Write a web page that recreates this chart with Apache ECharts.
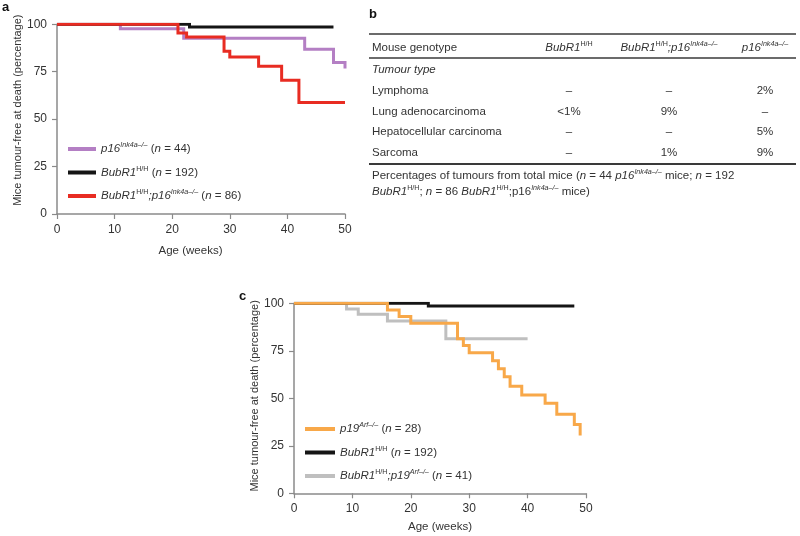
<!DOCTYPE html>
<html><head><meta charset="utf-8">
<script src="https://cdn.jsdelivr.net/npm/echarts@6/dist/echarts.min.js"></script>
<style>html,body{margin:0;padding:0;background:#fff}#c{width:800px;height:536px}</style>
</head><body><div id="c"></div>
<script>
const FONT = "'Liberation Sans', Arial, Helvetica, sans-serif";

// ---- Panel a data (weeks, % tumour-free) ----
const weeksP16a = [0, 11, 22, 43, 48, 50];
const survP16a  = [100, 97.6, 92.7, 86.8, 79.8, 76.7];
const weeksBubA = [0, 23, 48];
const survBubA  = [100, 98.6, 98.6];
const weeksDblA = [0, 21, 22.5, 29, 30, 35, 39, 42, 50];
const survDblA  = [100, 95.4, 93.3, 85.8, 82.8, 77.9, 70.5, 58.8, 58.8];

// ---- Panel c data ----
const weeksP19c = [0, 16, 18, 20, 28, 29, 30, 34, 35, 36, 37, 39, 43, 45, 48, 49];
const survP19c  = [100, 96.5, 93, 89.5, 81.3, 77.8, 74, 69.8, 65.6, 61.4, 56.4, 51.8, 47.4, 41.6, 36.2, 30.4];
const weeksBubC = [0, 23, 48];
const survBubC  = [100, 98.6, 98.6];
const weeksDblC = [0, 9, 11, 16, 26, 40];
const survDblC  = [100, 97, 94.2, 90.7, 81.4, 81.4];

const xTicks = [0, 10, 20, 30, 40, 50];
const yTicks = [0, 25, 50, 75, 100];

const legendLabels = {
  a_p16: '{i|p16}{si|Ink4a–/–}{r| (}{i|n}{r| = 44)}',
  a_bub: '{i|BubR1}{s|H/H}{r| (}{i|n}{r| = 192)}',
  a_dbl: '{i|BubR1}{s|H/H}{i|;p16}{si|Ink4a–/–}{r| (}{i|n}{r| = 86)}',
  c_p19: '{i|p19}{si|Arf–/–}{r| (}{i|n}{r| = 28)}',
  c_bub: '{i|BubR1}{s|H/H}{r| (}{i|n}{r| = 192)}',
  c_dbl: '{i|BubR1}{s|H/H}{i|;p19}{si|Arf–/–}{r| (}{i|n}{r| = 41)}'
};

// ---- Table b data ----
const tableHeader = ['Mouse genotype', '{i|BubR1}{s|H/H}', '{i|BubR1}{s|H/H}{i|;p16}{si|Ink4a–/–}', '{i|p16}{si|Ink4a–/–}'];
const tumourTypes = ['Lymphoma', 'Lung adenocarcinoma', 'Hepatocellular carcinoma', 'Sarcoma'];
const pctBubR1    = ['–', '<1%', '–', '–'];
const pctBubR1p16 = ['–', '9%', '–', '1%'];
const pctP16      = ['2%', '–', '5%', '9%'];
const footnote = [
  '{r|Percentages of tumours from total mice (}{i|n}{r| = 44 }{i|p16}{si|Ink4a–/–}{r| mice; }{i|n}{r| = 192}',
  '{i|BubR1}{s|H/H}{r|; }{i|n}{r| = 86 }{i|BubR1}{s|H/H}{r|;p16}{si|Ink4a–/–}{r| mice)}'
];

const TXT = '#333';
function richStyles(fs) {
  return {
    r:  { fontFamily: FONT, fontSize: fs, color: TXT, lineHeight: 14 },
    i:  { fontFamily: FONT, fontSize: fs, color: TXT, fontStyle: 'italic', lineHeight: 14 },
    s:  { fontFamily: FONT, fontSize: fs * 0.62, color: TXT, verticalAlign: 'top', lineHeight: 9 },
    si: { fontFamily: FONT, fontSize: fs * 0.62, color: TXT, fontStyle: 'italic', verticalAlign: 'top', lineHeight: 9 }
  };
}
const zip = (xs, ys) => xs.map((x, k) => [x, ys[k]]);

function xAxisCfg(gi, nameGap, labelMargin, namePad) {
  return {
    gridIndex: gi, type: 'value', min: 0, max: 50, interval: 10,
    name: 'Age (weeks)', nameLocation: 'middle', nameGap: nameGap,
    nameTextStyle: { fontFamily: FONT, fontSize: 11.5, color: TXT, padding: namePad },
    axisLine: { lineStyle: { color: '#8a8a8a', width: 1.5 } },
    axisTick: { length: 5, lineStyle: { color: '#8a8a8a', width: 1.2 } },
    axisLabel: { fontFamily: FONT, fontSize: 12, color: TXT, margin: labelMargin,
      customValues: xTicks },
    splitLine: { show: false }
  };
}
function yAxisCfg(gi, nameGap, namePad) {
  return {
    gridIndex: gi, type: 'value', min: 0, max: 100, interval: 25,
    name: 'Mice tumour-free at death (percentage)', nameLocation: 'middle', nameGap: nameGap,
    nameTextStyle: { fontFamily: FONT, fontSize: 11, color: TXT, padding: namePad },
    axisLine: { show: true, lineStyle: { color: '#8a8a8a', width: 1.5 } },
    axisTick: { show: true, length: 5, lineStyle: { color: '#8a8a8a', width: 1.2 } },
    axisLabel: { fontFamily: FONT, fontSize: 12, color: TXT, margin: 10, customValues: yTicks },
    splitLine: { show: false }
  };
}
function km(name, xi, data, color, z) {
  return {
    name: name, type: 'line', xAxisIndex: xi, yAxisIndex: xi, data: data,
    step: 'end', symbol: 'none', showSymbol: false, z: z,
    lineStyle: { color: color, width: 3, cap: 'butt', join: 'miter' },
    itemStyle: { color: color }, emphasis: { disabled: true }
  };
}

const C = { purple: '#b47fc4', black: '#151515', red: '#e82c22', orange: '#f8a849', gray: '#bfbfbf' };

// table graphics
const graphics = [];
function txt(x, y, text, align, fs, rich) {
  graphics.push({
    type: 'text', x: x, y: y, silent: true,
    style: { text: text, rich: rich, fill: TXT, fontFamily: FONT, fontSize: fs,
      textAlign: align, align: align, textVerticalAlign: 'middle', verticalAlign: 'middle' }
  });
}
function hline(x1, x2, y, w) {
  graphics.push({ type: 'line', silent: true, shape: { x1: x1, y1: y, x2: x2, y2: y },
    style: { stroke: '#3a3a3a', lineWidth: w } });
}
const tfs = 11.5;
const tr = richStyles(tfs);
// panel letters
graphics.push({ type: 'text', x: 2, y: 1, style: { text: 'a', fontFamily: FONT, fontSize: 13, fontWeight: 'bold', fill: '#111' } });
graphics.push({ type: 'text', x: 369, y: 8, style: { text: 'b', fontFamily: FONT, fontSize: 13, fontWeight: 'bold', fill: '#111' } });
graphics.push({ type: 'text', x: 239, y: 290, style: { text: 'c', fontFamily: FONT, fontSize: 13, fontWeight: 'bold', fill: '#111' } });

hline(369, 796, 34, 1.5);
hline(369, 796, 58, 1.3);
hline(369, 796, 164, 1.8);
const colX = [372, 569, 669, 765];
txt(colX[0], 48, '{r|' + tableHeader[0] + '}', 'left', tfs, tr);
for (let k = 1; k < 4; k++) txt(colX[k], 48, tableHeader[k], 'center', tfs, tr);
txt(colX[0], 70, '{i|Tumour type}', 'left', tfs, tr);
const rowY = [91, 112, 132, 153];
tumourTypes.forEach((t, k) => {
  txt(colX[0], rowY[k], '{r|' + t + '}', 'left', tfs, tr);
  txt(colX[1], rowY[k], '{r|' + pctBubR1[k] + '}', 'center', tfs, tr);
  txt(colX[2], rowY[k], '{r|' + pctBubR1p16[k] + '}', 'center', tfs, tr);
  txt(colX[3], rowY[k], '{r|' + pctP16[k] + '}', 'center', tfs, tr);
});
txt(colX[0], 176, footnote[0], 'left', tfs, tr);
txt(colX[0], 192, footnote[1], 'left', tfs, tr);

const legendBase = {
  orient: 'vertical', icon: 'rect', itemHeight: 4, itemGap: 10.5, selectedMode: false, padding: 0,
  formatter: n => legendLabels[n],
  textStyle: { fontFamily: FONT, fontSize: 11.5, color: TXT, rich: richStyles(11.5) }
};

const option = {
  animation: false,
  backgroundColor: '#fff',
  grid: [
    { left: 57, top: 24.3, width: 288, height: 189.7 },
    { left: 294, top: 303.3, width: 292, height: 190 }
  ],
  xAxis: [xAxisCfg(0, 31, 10, [0, 21, 0, 0]), xAxisCfg(1, 28, 9, [0, 0, 0, 0])],
  yAxis: [yAxisCfg(0, 32, [0, 0, 0, 18]), yAxisCfg(1, 26, [0, 0, 0, 5])],
  legend: [
    Object.assign({}, legendBase, { data: ['a_p16', 'a_bub', 'a_dbl'], left: 68, top: 142, itemWidth: 28 }),
    Object.assign({}, legendBase, { data: ['c_p19', 'c_bub', 'c_dbl'], left: 305, top: 422, itemWidth: 30 })
  ],
  series: [
    km('a_p16', 0, zip(weeksP16a, survP16a), C.purple, 2),
    km('a_bub', 0, zip(weeksBubA, survBubA), C.black, 3),
    km('a_dbl', 0, zip(weeksDblA, survDblA), C.red, 4),
    km('c_dbl', 1, zip(weeksDblC, survDblC), C.gray, 2),
    km('c_bub', 1, zip(weeksBubC, survBubC), C.black, 3),
    km('c_p19', 1, zip(weeksP19c, survP19c), C.orange, 4)
  ],
  graphic: graphics
};
const chart = echarts.init(document.getElementById('c'), null, { renderer: 'canvas' });
chart.setOption(option);
</script>
</body></html>
